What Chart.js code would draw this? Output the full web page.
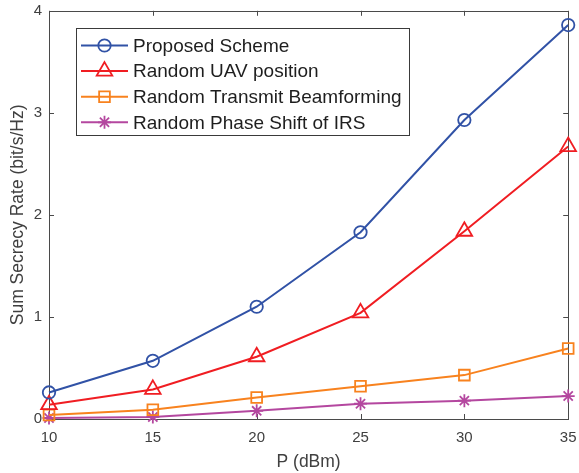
<!DOCTYPE html>
<html>
<head>
<meta charset="utf-8">
<script src="https://cdn.jsdelivr.net/npm/chart.js@4/dist/chart.umd.min.js"></script>
<style>
  html, body { margin: 0; padding: 0; background: #ffffff; }
  canvas { display: block; }
</style>
</head>
<body>
<canvas id="chart" width="579" height="473"></canvas>
<script>
// Transmit power (dBm) on the x axis
const powerDbm = [10, 15, 20, 25, 30, 35];

// Sum secrecy rate (bit/s/Hz) for each scheme
const proposedScheme = [0.26, 0.57, 1.10, 1.83, 2.93, 3.86];
const randomUavPosition = [0.14, 0.29, 0.61, 1.04, 1.84, 2.67];
const randomTransmitBf = [0.04, 0.09, 0.21, 0.32, 0.43, 0.69];
const randomPhaseShift = [0.01, 0.02, 0.08, 0.15, 0.18, 0.225];

const seriesNames = [
  'Proposed Scheme',
  'Random UAV position',
  'Random Transmit Beamforming',
  'Random Phase Shift of IRS'
];

// Tick values
const xTickValues = [10, 15, 20, 25, 30, 35];
const yTickValues = [0, 1, 2, 3, 4];

const styles = [
  { color: '#3152A6', marker: 'circle',   radius: 6.2 },
  { color: '#F01D22', marker: 'triangle', radius: 9 },
  { color: '#F8821E', marker: 'rect',     radius: 7.6 },
  { color: '#B4479F', marker: 'star',     radius: 6.5 }
];

const seriesValues = [proposedScheme, randomUavPosition, randomTransmitBf, randomPhaseShift];

const datasets = seriesValues.map((vals, i) => ({
  label: seriesNames[i],
  data: powerDbm.map((x, k) => ({ x: x, y: vals[k] })),
  borderColor: styles[i].color,
  backgroundColor: 'rgba(0,0,0,0)',
  borderWidth: 2,
  pointStyle: styles[i].marker,
  pointRadius: styles[i].radius,
  pointHoverRadius: styles[i].radius,
  pointBorderColor: styles[i].color,
  pointBackgroundColor: 'rgba(0,0,0,0)',
  pointBorderWidth: 1.8,
  tension: 0,
  clip: false
}));

const AXIS_COLOR = '#4a4a4a';
const TEXT_COLOR = '#404040';

// Box around the axes with inward tick marks on all four sides
const axesFrame = {
  id: 'axesFrame',
  beforeDatasetsDraw(chart) {
    const { ctx, chartArea: a, scales } = chart;
    const tl = 5;
    ctx.save();
    ctx.strokeStyle = AXIS_COLOR;
    ctx.lineWidth = 1;
    ctx.beginPath();
    scales.x.ticks.forEach(t => {
      const px = Math.round(scales.x.getPixelForValue(t.value)) + 0.5;
      ctx.moveTo(px, a.bottom); ctx.lineTo(px, a.bottom - tl);
      ctx.moveTo(px, a.top); ctx.lineTo(px, a.top + tl);
    });
    scales.y.ticks.forEach(t => {
      const py = Math.round(scales.y.getPixelForValue(t.value)) + 0.5;
      ctx.moveTo(a.left, py); ctx.lineTo(a.left + tl, py);
      ctx.moveTo(a.right, py); ctx.lineTo(a.right - tl, py);
    });
    ctx.stroke();
    ctx.strokeRect(Math.round(a.left) + 0.5, Math.round(a.top) + 0.5,
                   Math.round(a.right - a.left), Math.round(a.bottom - a.top));
    ctx.restore();
  }
};

function drawMarker(ctx, style, r, x, y) {
  ctx.beginPath();
  if (style === 'circle') {
    ctx.arc(x, y, r, 0, Math.PI * 2);
  } else if (style === 'triangle') {
    let rad = 0;
    ctx.moveTo(x + Math.sin(rad) * r, y - Math.cos(rad) * r);
    rad += 2 * Math.PI / 3;
    ctx.lineTo(x + Math.sin(rad) * r, y - Math.cos(rad) * r);
    rad += 2 * Math.PI / 3;
    ctx.lineTo(x + Math.sin(rad) * r, y - Math.cos(rad) * r);
    ctx.closePath();
  } else if (style === 'rect') {
    const s = Math.SQRT1_2 * r;
    ctx.rect(x - s, y - s, 2 * s, 2 * s);
  } else if (style === 'star') {
    const d = Math.SQRT1_2 * r;
    ctx.moveTo(x - r, y); ctx.lineTo(x + r, y);
    ctx.moveTo(x, y - r); ctx.lineTo(x, y + r);
    ctx.moveTo(x - d, y - d); ctx.lineTo(x + d, y + d);
    ctx.moveTo(x - d, y + d); ctx.lineTo(x + d, y - d);
  }
  ctx.stroke();
}

// Boxed legend in the upper-left of the axes, line + marker + label
const boxedLegend = {
  id: 'boxedLegend',
  afterDraw(chart, args, opts) {
    const { ctx } = chart;
    const b = opts.box;
    ctx.save();
    ctx.fillStyle = '#ffffff';
    ctx.fillRect(b.x, b.y, b.w, b.h);
    ctx.strokeStyle = '#3a3a3a';
    ctx.lineWidth = 1;
    ctx.strokeRect(b.x + 0.5, b.y + 0.5, b.w, b.h);
    ctx.font = opts.font;
    ctx.textBaseline = 'middle';
    ctx.textAlign = 'left';
    chart.data.datasets.forEach((ds, i) => {
      const cy = b.y + opts.firstRow + i * opts.rowGap;
      ctx.strokeStyle = ds.borderColor;
      ctx.lineWidth = ds.borderWidth;
      ctx.beginPath();
      ctx.moveTo(opts.lineX0, cy);
      ctx.lineTo(opts.lineX1, cy);
      ctx.stroke();
      ctx.lineWidth = ds.pointBorderWidth;
      drawMarker(ctx, ds.pointStyle, ds.pointRadius, (opts.lineX0 + opts.lineX1) / 2, cy);
      ctx.fillStyle = '#1e1e1e';
      ctx.fillText(ds.label, opts.textX, cy + 1);
    });
    ctx.restore();
  }
};

new Chart(document.getElementById('chart'), {
  type: 'line',
  data: { datasets: datasets },
  plugins: [axesFrame, boxedLegend],
  options: {
    responsive: false,
    animation: false,
    devicePixelRatio: 1,
    layout: { padding: { left: 0, right: 8, top: 9, bottom: 0 } },
    plugins: {
      legend: { display: false },
      tooltip: { enabled: false },
      boxedLegend: {
        box: { x: 76, y: 28, w: 333, h: 107 },
        firstRow: 17.5,
        rowGap: 25.6,
        lineX0: 81,
        lineX1: 128,
        textX: 133,
        font: '19px "Liberation Sans", Arial, sans-serif'
      }
    },
    scales: {
      x: {
        type: 'linear',
        min: 10,
        max: 35,
        afterBuildTicks: s => { s.ticks = xTickValues.map(v => ({ value: v })); },
        afterFit: s => { s.height = 54; s.paddingLeft = 0; s.paddingRight = 0; },
        grid: { display: false, drawTicks: false },
        border: { display: false },
        ticks: {
          color: TEXT_COLOR,
          padding: 10,
          maxRotation: 0,
          font: { family: '"Liberation Sans", Arial, sans-serif', size: 15 }
        },
        title: {
          display: true,
          text: 'P (dBm)',
          color: TEXT_COLOR,
          padding: { top: 0, bottom: 0 },
          font: { family: '"Liberation Sans", Arial, sans-serif', size: 17.5 }
        }
      },
      y: {
        type: 'linear',
        min: 0,
        max: 4,
        afterBuildTicks: s => { s.ticks = yTickValues.map(v => ({ value: v })); },
        afterFit: s => { s.width = 49; s.paddingTop = 0; s.paddingBottom = 0; },
        grid: { display: false, drawTicks: false },
        border: { display: false },
        ticks: {
          color: TEXT_COLOR,
          padding: 7,
          font: { family: '"Liberation Sans", Arial, sans-serif', size: 15 }
        },
        title: {
          display: true,
          text: 'Sum Secrecy Rate (bit/s/Hz)',
          color: TEXT_COLOR,
          padding: { top: 8, bottom: 0 },
          font: { family: '"Liberation Sans", Arial, sans-serif', size: 17.5 }
        }
      }
    }
  }
});
</script>
</body>
</html>
